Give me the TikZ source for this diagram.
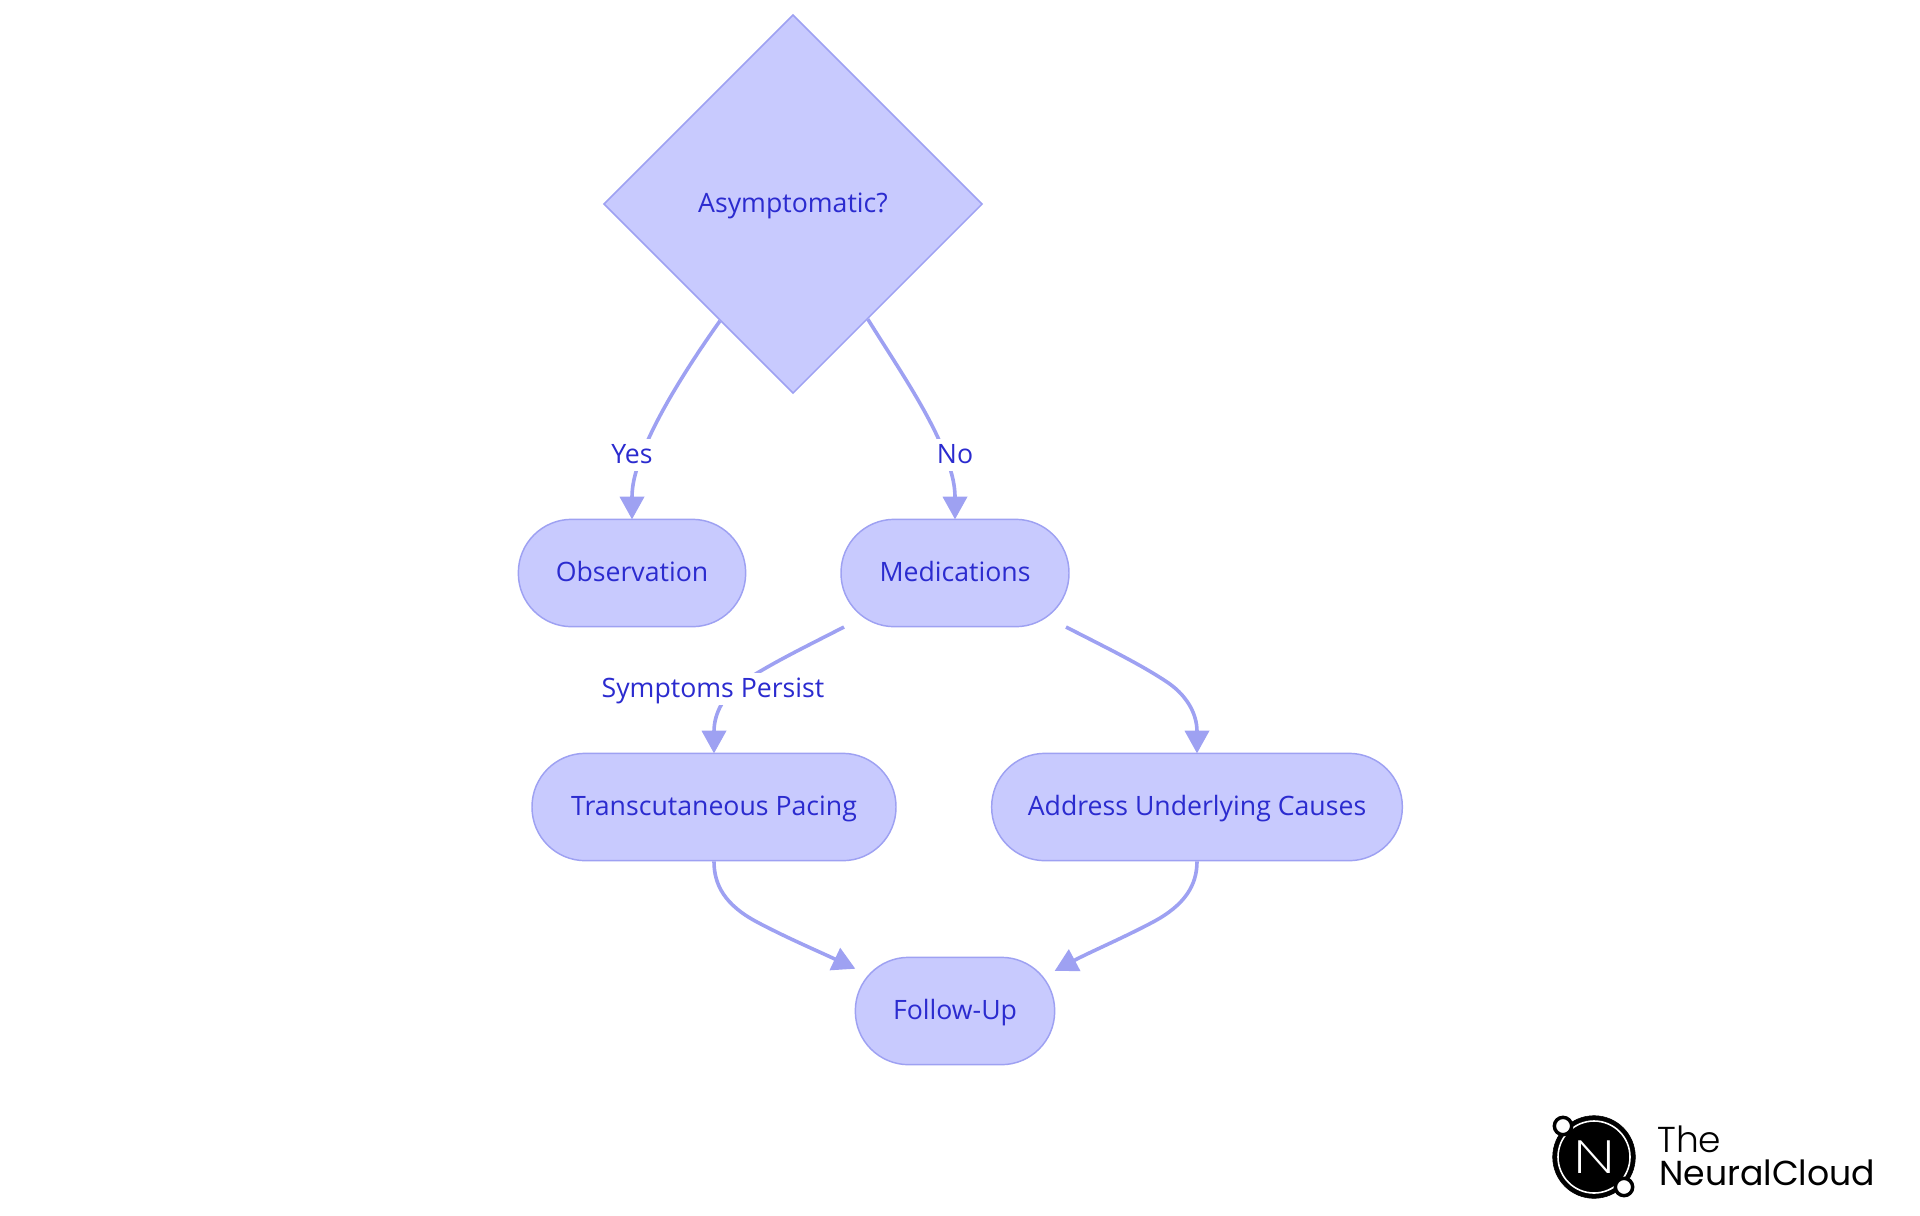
\documentclass[tikz,border=0pt]{standalone}
\usepackage{fontspec}
\setmainfont{Open Sans}
\newfontfamily\logofont{Poppins}[UprightFont=* Light]
\newfontfamily\logofontb{Poppins}
\newfontfamily\logofontn{Poppins}[UprightFont=* ExtraLight]
\usetikzlibrary{shapes.geometric,arrows.meta}
\definecolor{nodefill}{HTML}{C8CAFE}
\definecolor{nodeline}{HTML}{9EA1F2}
\definecolor{nodetext}{HTML}{2B2BCF}
\tikzset{
  lbltext/.style={text=nodetext, font=\fontsize{20}{24}\selectfont, text height=14.4pt, text depth=2.2pt, inner sep=0pt},
  stadium/.style={lbltext, draw=nodeline, fill=nodefill, line width=1.1pt, rounded corners=40pt, minimum height=80.5pt},
  decision/.style={lbltext, diamond, aspect=1, draw=nodeline, fill=nodefill, line width=1.1pt, minimum width=284pt, minimum height=284pt},
  edgelbl/.style={lbltext, fill=white, inner xsep=1pt, inner ysep=3.7pt},
  edgeline/.style={draw=nodeline, line width=2.7pt, shorten >=-.6pt, -{Triangle[length=17pt,width=18pt]}},
}
\begin{document}
\begin{tikzpicture}[x=.75pt,y=-.75pt]
\useasboundingbox (0,0) rectangle (1920,1215);
\node[decision] (dec) at (793,204){Asymptomatic?};
\node[stadium, minimum width=170.5pt] (obs) at (632,573){Observation};
\node[stadium, minimum width=171pt] (med) at (955,573){Medications};
\node[stadium, minimum width=273pt] (pace) at (714,807){Transcutaneous Pacing};
\node[stadium, minimum width=308pt] (cause) at (1197,807){Address Underlying Causes};
\node[stadium, minimum width=149.5pt] (foll) at (955,1011){Follow-Up};
\coordinate (medl) at (844,627);
\coordinate (medr) at (1066,627);
\draw[edgeline] (dec.-122.4) .. controls (695,356) and (665,402) .. (648,440) .. controls (638,463) and (632,480) .. (obs.north);
\draw[edgeline] (dec.-57.3) .. controls (890,355) and (922,402) .. (939,440) .. controls (949,463) and (955,480) .. (med.north);
\draw[edgeline] (medl) .. controls (805,647) and (770,664) .. (743,682) .. controls (725,694) and (714,712) .. (pace.north);
\draw[edgeline] (medr) .. controls (1105,647) and (1140,664) .. (1167,682) .. controls (1185,694) and (1197,712) .. (cause.north);
\draw[edgeline] (pace.south) .. controls (714,885) and (725,905) .. (757,922) .. controls (785,937) and (820,952) .. (foll.157.3);
\draw[edgeline] (cause.south) .. controls (1197,885) and (1185,905) .. (1153,922) .. controls (1125,937) and (1090,952) .. (foll.22.7);
\node[edgelbl] (yes) at (632,455){Yes};
\node[edgelbl] (no) at (955,455){No};
\node[edgelbl] (persist) at (713,689){Symptoms Persist};
\node[circle, fill=black, draw=black, minimum size=62pt, inner sep=0pt] (logo) at (1594,1157){};
\node[circle, draw=white, line width=1.2pt, minimum size=54pt, inner sep=0pt] (ring) at (1594,1157){};
\node[circle, fill=white, draw=black, line width=2.6pt, minimum size=13pt, inner sep=0pt] (moona) at (1563,1126){};
\node[circle, fill=white, draw=black, line width=2.6pt, minimum size=13pt, inner sep=0pt] (moonb) at (1624,1187){};
\node[text=white, font=\logofontn\fontsize{35}{35}\selectfont, inner sep=0pt] (logon) at (1594,1157){\scalebox{1.35}[1]{N}};
\node[anchor=base west, font=\logofont\fontsize{27}{27}\selectfont, inner sep=0pt] (the) at (1657,1152){The};
\node[anchor=base west, font=\logofontb\fontsize{26}{26}\selectfont, inner sep=0pt] (cloud) at (1659,1185){NeuralCloud};
\end{tikzpicture}
\end{document}
